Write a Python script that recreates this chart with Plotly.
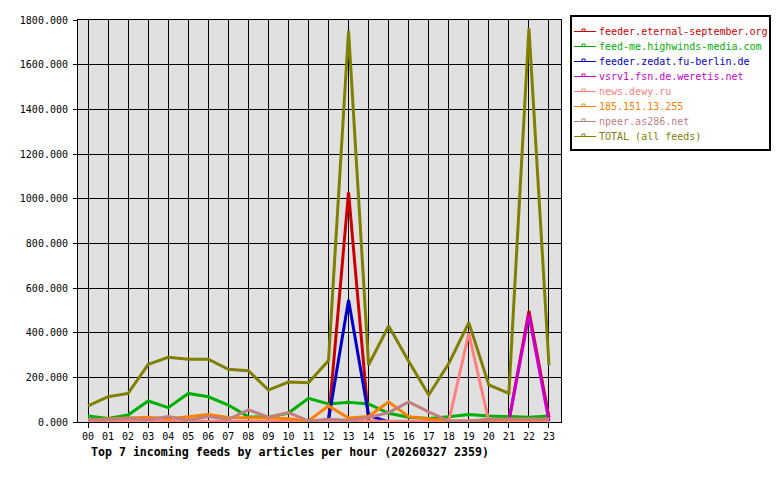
import plotly.graph_objects as go

hours = [f"{h:02d}" for h in range(24)]

eternal_september = [0, 0, 0, 0, 0, 0, 0, 0, 0, 0, 0, 0, 5, 1028, 5, 0, 0, 0, 0, 0, 0, 5, 497, 20]
highwinds = [27, 16, 31, 94, 64, 128, 113, 76, 24, 21, 40, 106, 81, 88, 81, 39, 21, 16, 24, 34, 27, 24, 21, 27]
zedat = [0, 0, 0, 0, 0, 0, 0, 0, 0, 0, 0, 0, 10, 546, 30, 0, 0, 0, 0, 0, 0, 0, 0, 0]
weretis = [0, 0, 0, 0, 0, 0, 0, 0, 0, 0, 0, 0, 0, 0, 0, 0, 0, 0, 0, 0, 0, 3, 479, 3]
dewy = [3, 3, 3, 3, 3, 3, 3, 3, 3, 3, 3, 3, 3, 3, 3, 3, 3, 3, 3, 397, 3, 3, 3, 3]
ip185 = [10, 15, 18, 21, 15, 24, 34, 20, 20, 18, 15, 5, 72, 18, 25, 90, 24, 16, 5, 5, 10, 12, 10, 12]
as286 = [12, 10, 18, 10, 25, 8, 25, 12, 54, 22, 42, 5, 12, 8, 20, 42, 90, 45, 5, 5, 12, 15, 15, 12]
total = [72, 113, 128, 258, 290, 281, 281, 236, 230, 143, 179, 176, 275, 1751, 255, 430, 272, 121, 262, 445, 166, 128, 1763, 255]

series_names = ["feeder.eternal-september.org", "feed-me.highwinds-media.com", "feeder.zedat.fu-berlin.de",
                "vsrv1.fsn.de.weretis.net", "news.dewy.ru", "185.151.13.255", "npeer.as286.net",
                "TOTAL (all feeds)"]
series_values = [eternal_september, highwinds, zedat, weretis, dewy, ip185, as286, total]
series_colors = ["#CC0000", "#00B000", "#0000CC", "#CC00CC", "#FF8080", "#FF8000", "#C08080", "#808000"]

y_ticks = list(range(0, 1801, 200))
title_text = "Top 7 incoming feeds by articles per hour (20260327 2359)"

MONO = "DejaVu Sans Mono, Liberation Mono, monospace"

# plot area in pixels
PL, PR, PT, PB = 78, 561, 20, 422


def px(x):
    return (x - PL) / (PR - PL)


def py(y):
    return (PB - y) / (PB - PT)


fig = go.Figure()
xs = list(range(24))
for name, vals, col in zip(series_names, series_values, series_colors):
    fig.add_trace(go.Scatter(
        x=xs, y=vals, mode="lines", name=name,
        line=dict(color=col, width=3), showlegend=False,
    ))

# custom legend (box, sample lines, coloured labels)
shapes = [dict(type="rect", xref="paper", yref="paper",
               x0=px(571), x1=px(770), y0=py(150), y1=py(16),
               line=dict(color="black", width=2), fillcolor="white", layer="above")]
annotations = []
for i, (name, col) in enumerate(zip(series_names, series_colors)):
    ry = 31.5 + 15 * i
    shapes.append(dict(type="line", xref="paper", yref="paper",
                       x0=px(574), x1=px(596), y0=py(ry), y1=py(ry),
                       line=dict(color=col, width=1), layer="above"))
    shapes.append(dict(type="rect", xref="paper", yref="paper",
                       x0=px(582), x1=px(585), y0=py(ry), y1=py(ry - 2.5),
                       line=dict(color=col, width=1), layer="above"))
    annotations.append(dict(text=name, xref="paper", yref="paper",
                            x=px(597), y=py(ry), xanchor="left", yanchor="middle",
                            showarrow=False, font=dict(family=MONO, size=10, color=col)))

annotations.append(dict(
    text=f"<b>{title_text}</b>", xref="paper", yref="paper",
    x=px(89), y=py(452), xanchor="left", yanchor="middle",
    showarrow=False, font=dict(family=MONO, size=11.6, color="black"),
))

fig.update_layout(
    width=780, height=480,
    margin=dict(l=PL, r=780 - PR, t=PT, b=480 - PB, autoexpand=False),
    paper_bgcolor="white", plot_bgcolor="#E0E0E0",
    font=dict(family=MONO, size=10, color="black"),
    showlegend=False,
    xaxis=dict(
        range=[-0.5, 23.6], tickmode="array", tickvals=xs, ticktext=hours,
        showgrid=True, gridcolor="black", gridwidth=1,
        showline=True, linecolor="black", linewidth=1, mirror=True,
        ticks="outside", ticklen=5, tickcolor="black",
        zeroline=False, fixedrange=True,
    ),
    yaxis=dict(
        range=[0, 1800], tickmode="array", tickvals=y_ticks,
        ticktext=[f"{v:.3f}" for v in y_ticks],
        showgrid=True, gridcolor="black", gridwidth=1,
        showline=True, linecolor="black", linewidth=1, mirror=True,
        ticks="outside", ticklen=4, tickcolor="black",
        ticklabelstandoff=3,
        zeroline=False, fixedrange=True,
    ),
    shapes=shapes,
    annotations=annotations,
)

fig.write_html("out.html")
